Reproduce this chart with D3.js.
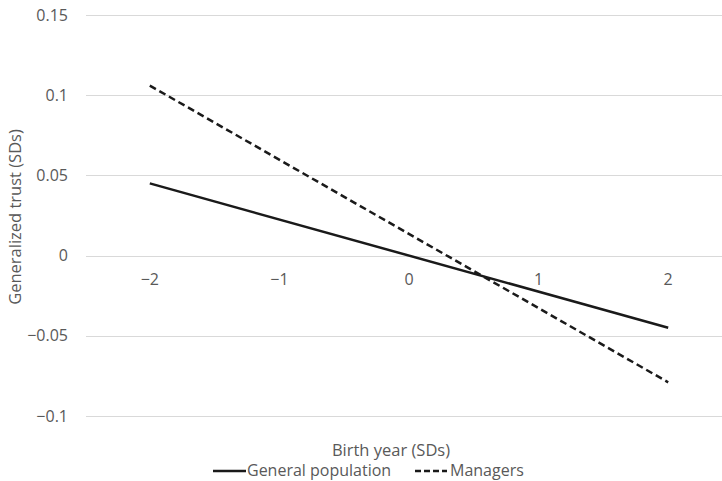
<!DOCTYPE html>
<html>
<head>
<meta charset="utf-8">
<script src="https://d3js.org/d3.v7.min.js"></script>
<style>
  body { margin: 0; background: #fff; }
  text { font-family: "Open Sans", sans-serif; fill: #595959; }
</style>
</head>
<body>
<script>
// data
var xEnds = [-2, 2];
var generalPop = [0.045, -0.045];
var managers = [0.106, -0.079];
var seriesNames = ["General population", "Managers"];
var yTicks = [-0.1, -0.05, 0, 0.05, 0.1, 0.15];
var xTicks = [-2, -1, 0, 1, 2];

var W = 722, H = 481;
var svg = d3.select("body").append("svg")
  .attr("width", W).attr("height", H);

var xScale = d3.scaleLinear().domain([-2.5, 2.5]).range([85, 733]);
var yScale = d3.scaleLinear().domain([-0.1, 0.15]).range([416, 15]);

var minus = function(v) { return String(v).replace("-", "\u2212"); };

// gridlines
svg.append("g").selectAll("line")
  .data(yTicks).enter().append("line")
  .attr("x1", 86).attr("x2", W)
  .attr("y1", function(d) { return Math.round(yScale(d)) + 0.5; })
  .attr("y2", function(d) { return Math.round(yScale(d)) + 0.5; })
  .attr("stroke", "#d9d9d9").attr("stroke-width", 1);

// y tick labels
svg.append("g").selectAll("text")
  .data(yTicks).enter().append("text")
  .attr("x", 68)
  .attr("y", function(d) { return yScale(d); })
  .attr("dy", "0.35em")
  .attr("text-anchor", "end")
  .style("font-size", "16px")
  .text(function(d) { return minus(d); });

// x tick labels, sitting under the zero line
svg.append("g").selectAll("text")
  .data(xTicks).enter().append("text")
  .attr("x", function(d) { return xScale(d); })
  .attr("y", yScale(0) + 24)
  .attr("dy", "0.35em")
  .attr("text-anchor", "middle")
  .style("font-size", "16px")
  .text(function(d) { return minus(d); });

var line = d3.line()
  .x(function(d, i) { return xScale(xEnds[i]); })
  .y(function(d) { return yScale(d); });

svg.append("path")
  .attr("d", line(generalPop))
  .attr("fill", "none").attr("stroke", "#1a1a1a")
  .attr("stroke-width", 2.5);

svg.append("path")
  .attr("d", line(managers))
  .attr("fill", "none").attr("stroke", "#1a1a1a")
  .attr("stroke-width", 2.5)
  .attr("stroke-dasharray", "7,4");

// axis titles
svg.append("text")
  .attr("x", 391).attr("y", 450).attr("dy", "0.35em")
  .attr("text-anchor", "middle")
  .style("font-size", "16.5px")
  .text("Birth year (SDs)");

svg.append("text")
  .attr("transform", "translate(15,217) rotate(-90)")
  .attr("dy", "0.35em")
  .attr("text-anchor", "middle")
  .style("font-size", "16.5px")
  .text("Generalized trust (SDs)");

// legend
var legend = svg.append("g");
legend.append("line")
  .attr("x1", 213).attr("x2", 246).attr("y1", 471).attr("y2", 471)
  .attr("stroke", "#1a1a1a").attr("stroke-width", 2.5);
legend.append("text")
  .attr("x", 247).attr("y", 470).attr("dy", "0.35em")
  .style("font-size", "16px")
  .text(seriesNames[0]);
legend.append("line")
  .attr("x1", 415).attr("x2", 447).attr("y1", 471).attr("y2", 471)
  .attr("stroke", "#1a1a1a").attr("stroke-width", 2.5)
  .attr("stroke-dasharray", "6,3");
legend.append("text")
  .attr("x", 450).attr("y", 470).attr("dy", "0.35em")
  .style("font-size", "16px")
  .text(seriesNames[1]);
</script>
</body>
</html>
